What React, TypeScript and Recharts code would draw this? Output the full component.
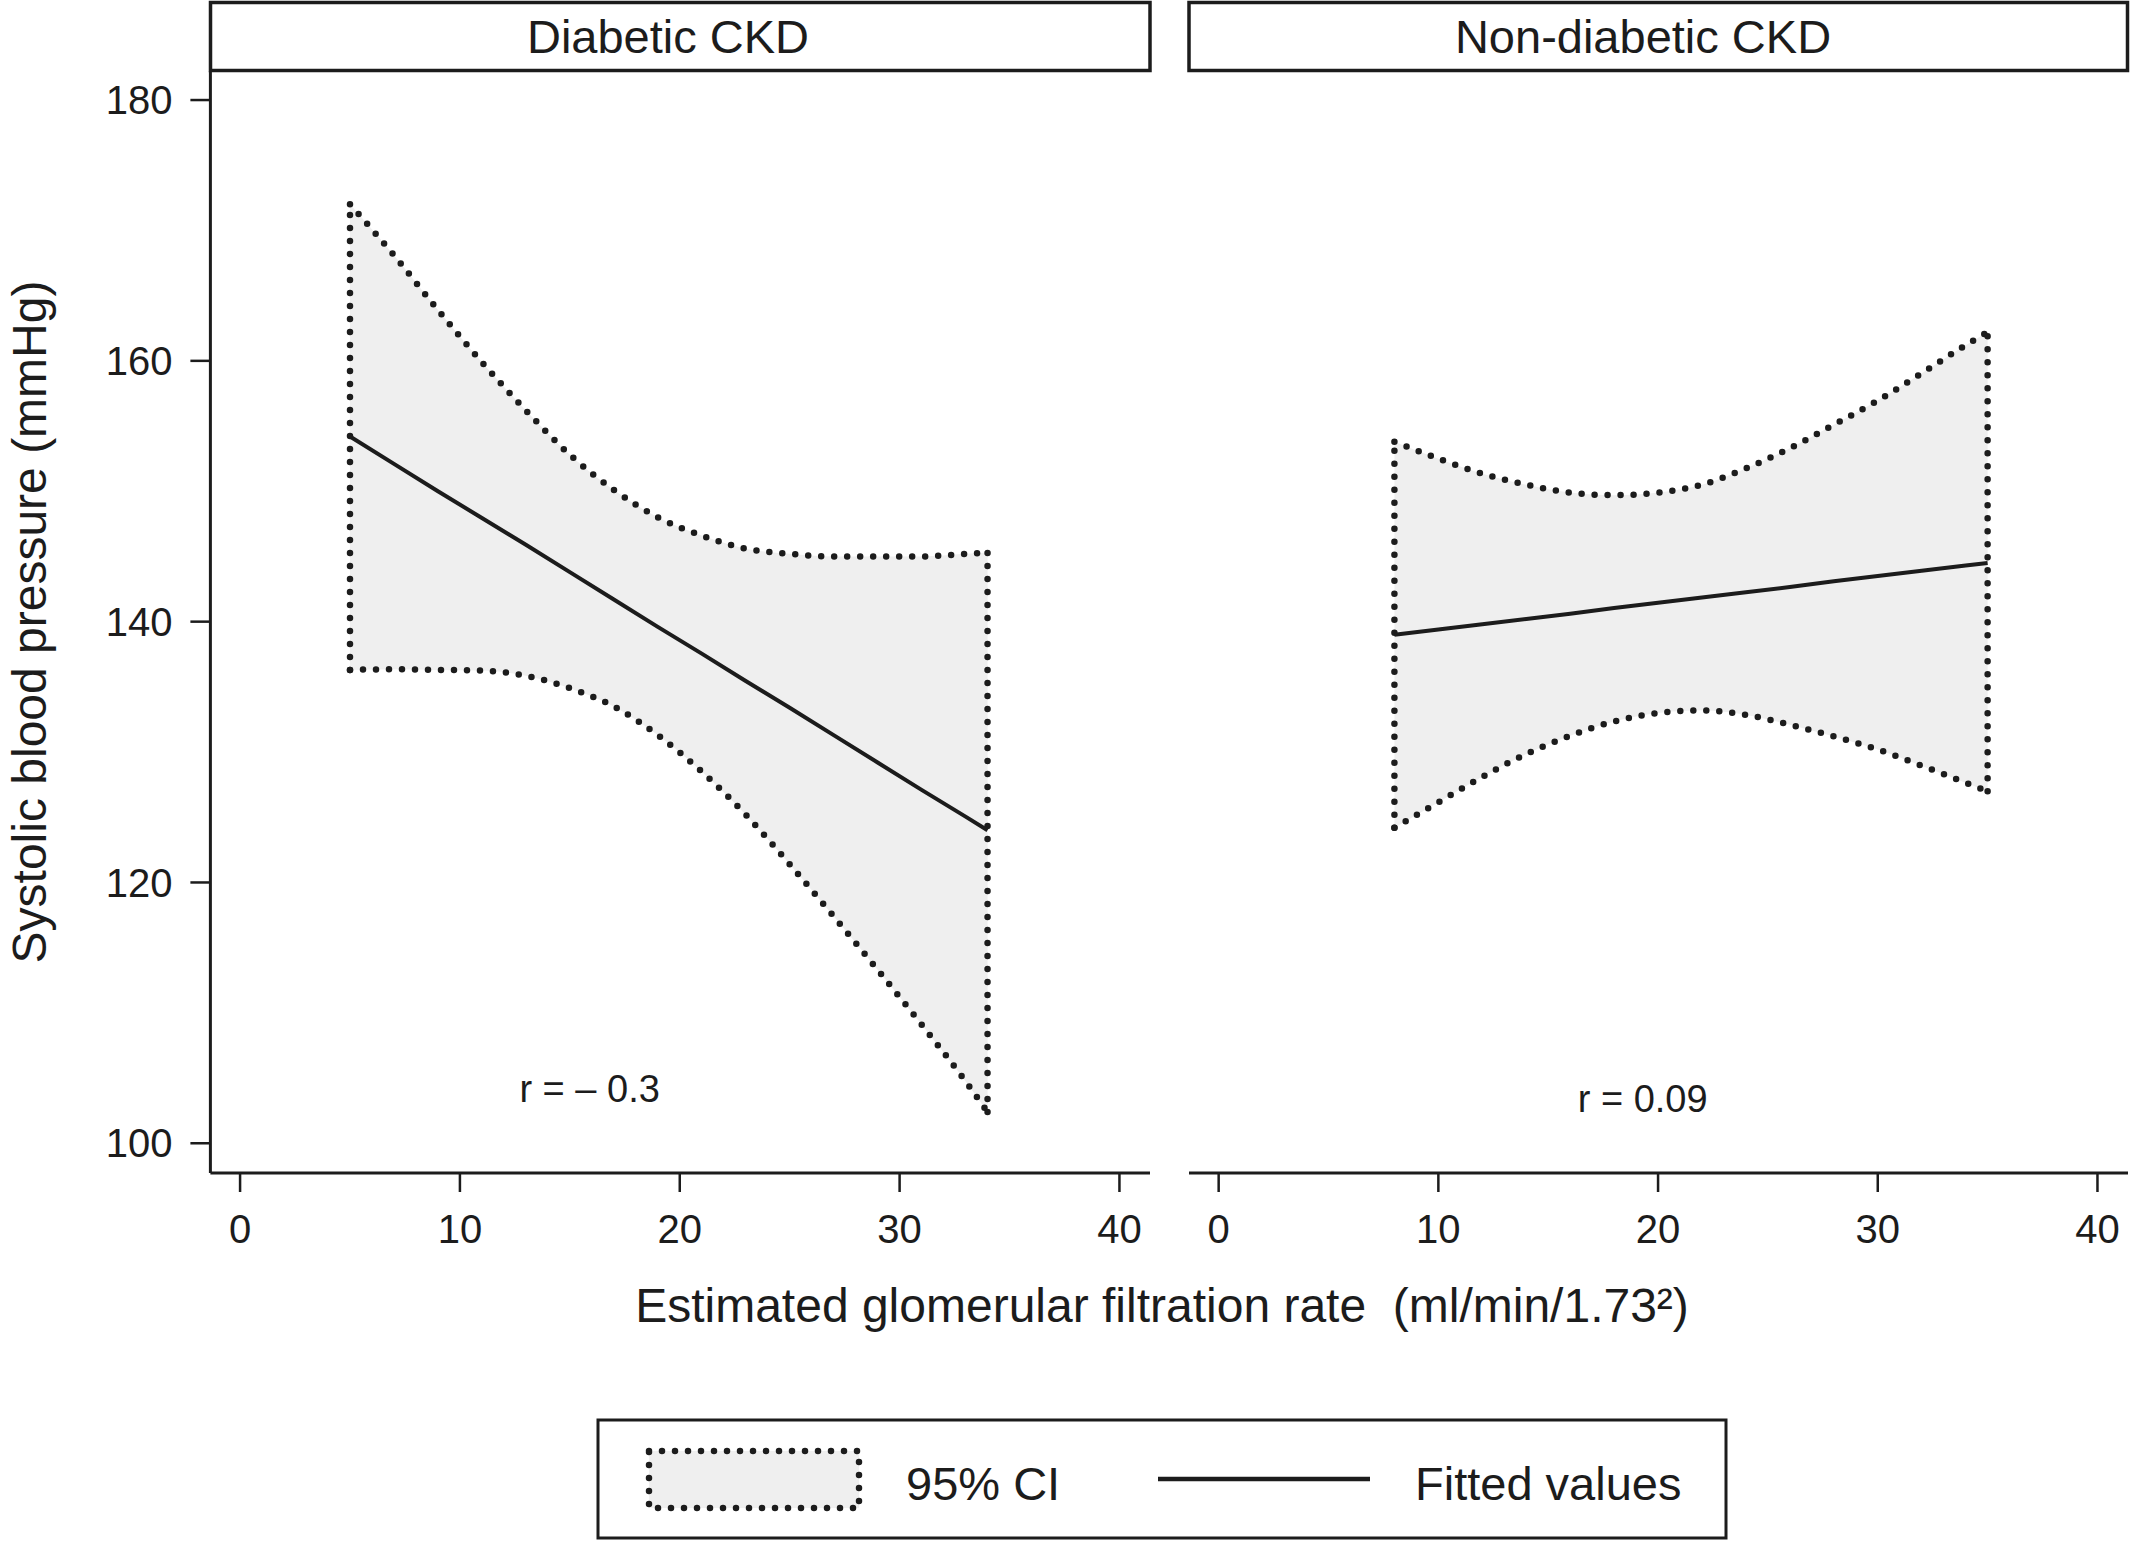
import React from 'react';
import {
  ComposedChart,
  Area,
  Line,
  XAxis,
  YAxis,
  ReferenceLine,
  ReferenceDot,
} from 'recharts';

const INK = '#1c1c1c';
const BAND = '#efefef';
const FONT = '"Liberation Sans", Arial, Helvetica, sans-serif';

const xTicks = [0, 10, 20, 30, 40];
const yTicks = [100, 120, 140, 160, 180];
const panelTitles = ['Diabetic CKD', 'Non-diabetic CKD'];
const rLabels = ['r = \u2013 0.3', 'r = 0.09'];
const legendLabels = ['95% CI', 'Fitted values'];
const xTitle = 'Estimated glomerular filtration rate  (ml/min/1.73\u00b2)';
const yTitle = 'Systolic blood pressure (mmHg)';

// Diabetic CKD
const diabeticX = [5, 7, 9, 11, 13, 15, 17, 19, 21, 23, 25, 27, 29, 31, 33, 34];
const diabeticUpper = [172.0, 168.1, 163.9, 159.9, 156.2, 152.8, 150.1, 148.0, 146.6, 145.6, 145.2, 145.0, 145.0, 145.0, 145.2, 145.3];
const diabeticLower = [136.3, 136.35, 136.3, 136.25, 135.85, 134.9, 133.5, 131.3, 128.5, 125.2, 121.4, 117.4, 113.3, 109.1, 104.75, 102.4];
const diabeticFit = [154.2, 152.1, 150.0, 147.95, 145.9, 143.8, 141.7, 139.6, 137.55, 135.45, 133.4, 131.3, 129.2, 127.1, 125.05, 124.0];

// Non-diabetic CKD
const nonDiabeticX = [8, 10, 12, 14, 16, 18, 20, 22, 24, 26, 28, 30, 32, 34, 35];
const nonDiabeticUpper = [153.8, 152.5, 151.35, 150.5, 149.9, 149.7, 149.9, 150.5, 151.75, 153.3, 155.1, 156.95, 159.05, 161.2, 162.2];
const nonDiabeticLower = [124.2, 126.15, 128.1, 129.85, 131.25, 132.35, 133.0, 133.2, 132.85, 132.1, 131.2, 130.2, 128.95, 127.65, 127.0];
const nonDiabeticFit = [139.0, 139.4, 139.8, 140.2, 140.6, 141.05, 141.45, 141.85, 142.25, 142.65, 143.1, 143.5, 143.9, 144.3, 144.5];

const X_DOMAIN = [-1.35, 41.39];
const Y_DOMAIN = [97.72, 182.25];
const CHART_H = 1300;

const dotted = {
  stroke: INK,
  strokeWidth: 6.5,
  strokeDasharray: '0 13',
  strokeLinecap: 'round' as const,
};

const buildRows = (xs: number[], lo: number[], up: number[], fit: number[]) =>
  xs.map((x, i) => ({ x, lower: lo[i], upper: up[i], fit: fit[i], band: [lo[i], up[i]] }));

type PanelProps = {
  xs: number[];
  lo: number[];
  up: number[];
  fit: number[];
  rText: string;
  rX: number;
  rY: number;
  showY: boolean;
  left: number;
  width: number;
  margin: { top: number; right: number; bottom: number; left: number };
};

const Panel = ({ xs, lo, up, fit, rText, rX, rY, showY, left, width, margin }: PanelProps) => {
  const rows = buildRows(xs, lo, up, fit);
  const first = xs[0];
  const last = xs[xs.length - 1];
  return (
    <div style={{ position: 'absolute', left, top: 0 }}>
      <ComposedChart width={width} height={CHART_H} data={rows} margin={margin}>
        <XAxis
          dataKey="x"
          type="number"
          domain={X_DOMAIN}
          ticks={xTicks}
          interval={0}
          allowDataOverflow
          height={60}
          tickSize={19}
          tickMargin={23}
          axisLine={{ stroke: INK, strokeWidth: 3 }}
          tickLine={{ stroke: INK, strokeWidth: 2.5 }}
          tick={{ fill: INK, fontSize: 40 }}
        />
        <YAxis
          type="number"
          domain={Y_DOMAIN}
          ticks={yTicks}
          interval={0}
          allowDataOverflow
          hide={!showY}
          width={showY ? 120 : 0}
          tickSize={20}
          tickMargin={18}
          axisLine={{ stroke: INK, strokeWidth: 3 }}
          tickLine={{ stroke: INK, strokeWidth: 2.5 }}
          tick={{ fill: INK, fontSize: 40 }}
        />
        <Area
          dataKey="band"
          type="monotone"
          stroke="none"
          fill={BAND}
          fillOpacity={1}
          dot={false}
          activeDot={false}
          isAnimationActive={false}
        />
        <Line dataKey="upper" type="monotone" {...dotted} dot={false} activeDot={false} isAnimationActive={false} />
        <Line dataKey="lower" type="monotone" {...dotted} dot={false} activeDot={false} isAnimationActive={false} />
        <ReferenceLine
          segment={[{ x: first, y: lo[0] }, { x: first, y: up[0] }]}
          ifOverflow="visible"
          {...dotted}
        />
        <ReferenceLine
          segment={[{ x: last, y: lo[lo.length - 1] }, { x: last, y: up[up.length - 1] }]}
          ifOverflow="visible"
          {...dotted}
        />
        <Line
          dataKey="fit"
          type="linear"
          stroke={INK}
          strokeWidth={4}
          dot={false}
          activeDot={false}
          isAnimationActive={false}
        />
        <ReferenceDot
          x={rX}
          y={rY}
          r={1}
          fill="none"
          stroke="none"
          label={{ value: rText, position: 'center', fill: INK, fontSize: 38 }}
        />
      </ComposedChart>
    </div>
  );
};

const Overlay = () => (
  <svg
    width={2130}
    height={1541}
    style={{ position: 'absolute', left: 0, top: 0, pointerEvents: 'none', fontFamily: FONT }}
  >
    {/* strip headers */}
    <rect x={210.5} y={2.5} width={939.5} height={68} fill="#fff" stroke={INK} strokeWidth={3.5} />
    <text x={668} y={53} textAnchor="middle" fontSize={47} fill={INK}>
      {panelTitles[0]}
    </text>
    <rect x={1189} y={2.5} width={938.5} height={68} fill="#fff" stroke={INK} strokeWidth={3.5} />
    <text x={1643} y={53} textAnchor="middle" fontSize={47} fill={INK}>
      {panelTitles[1]}
    </text>

    {/* axis titles */}
    <text x={1162} y={1322} textAnchor="middle" fontSize={48} fill={INK} style={{ whiteSpace: 'pre' }}>
      {xTitle}
    </text>
    <text x={46} y={622} textAnchor="middle" fontSize={48} fill={INK} transform="rotate(-90 46 622)">
      {yTitle}
    </text>

    {/* legend */}
    <rect x={598} y={1420} width={1128} height={118} fill="#fff" stroke={INK} strokeWidth={3} />
    <rect x={649} y={1451} width={210} height={57} fill={BAND} {...dotted} />
    <text x={906} y={1500} fontSize={47} fill={INK}>
      {legendLabels[0]}
    </text>
    <line x1={1158} y1={1479} x2={1370} y2={1479} stroke={INK} strokeWidth={4.5} />
    <text x={1415} y={1500} fontSize={47} fill={INK}>
      {legendLabels[1]}
    </text>
  </svg>
);

const App = () => {
  return (
    <div
      style={{
        position: 'absolute',
        left: 0,
        top: 0,
        width: 2130,
        height: 1541,
        background: '#fff',
        fontFamily: FONT,
        overflow: 'hidden',
      }}
    >
      <Panel
        xs={diabeticX}
        lo={diabeticLower}
        up={diabeticUpper}
        fit={diabeticFit}
        rText={rLabels[0]}
        rX={15.9}
        rY={104.2}
        showY
        left={0}
        width={1160}
        margin={{ top: 70.7, right: 10, bottom: 67, left: 90.4 }}
      />
      <Panel
        xs={nonDiabeticX}
        lo={nonDiabeticLower}
        up={nonDiabeticUpper}
        fit={nonDiabeticFit}
        rText={rLabels[1]}
        rX={19.3}
        rY={103.45}
        showY={false}
        left={1100}
        width={1030}
        margin={{ top: 70.7, right: 2, bottom: 67, left: 89 }}
      />
      <Overlay />
    </div>
  );
};

export default App;
